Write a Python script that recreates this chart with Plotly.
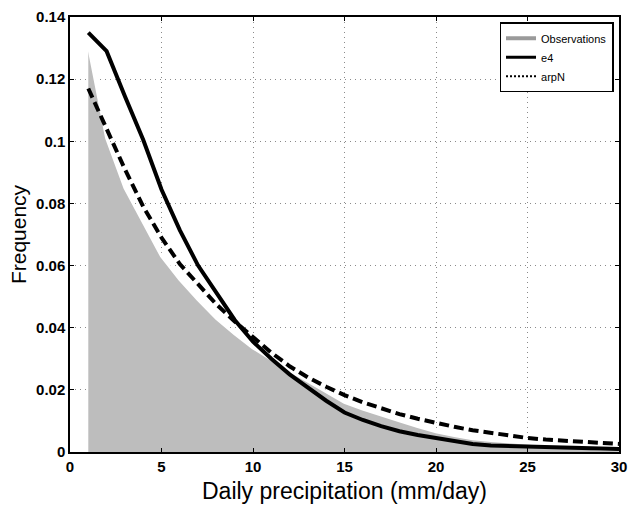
import plotly.graph_objects as go

x = list(range(1, 31))
obs = [0.131, 0.101, 0.085, 0.074, 0.063, 0.0555, 0.049, 0.043, 0.038, 0.0335,
       0.0298, 0.0262, 0.0228, 0.0195, 0.016, 0.0138, 0.0118, 0.0100, 0.0082, 0.0065,
       0.0053, 0.0043, 0.0037, 0.0033, 0.003, 0.0024, 0.0018, 0.0013, 0.0009, 0.0007]
e4 = [0.135, 0.129, 0.1145, 0.1005, 0.0845, 0.0714, 0.060, 0.051, 0.0425, 0.0355,
      0.030, 0.025, 0.0207, 0.0165, 0.0127, 0.0103, 0.0083, 0.0067, 0.0055, 0.0045,
      0.0034, 0.0026, 0.0021, 0.0019, 0.0017, 0.0015, 0.0013, 0.0012, 0.0011, 0.001]
arpn = [0.117, 0.104, 0.091, 0.079, 0.069, 0.0605, 0.054, 0.0475, 0.042, 0.0368,
        0.032, 0.0276, 0.024, 0.021, 0.0183, 0.016, 0.014, 0.0122, 0.0107, 0.0093,
        0.0081, 0.0070, 0.0061, 0.0052, 0.0045, 0.0040, 0.0036, 0.0032, 0.0029, 0.0026]

xticks = [0, 5, 10, 15, 20, 25, 30]
yticks = [0, 0.02, 0.04, 0.06, 0.08, 0.1, 0.12, 0.14]
yticklabels = ["0", "0.02", "0.04", "0.06", "0.08", "0.1", "0.12", "0.14"]

GRAY = "#bdbdbd"
fig = go.Figure()
# observations (filled area with a thin white rim)
fig.add_trace(go.Scatter(x=x, y=obs, mode="lines", showlegend=False,
                         line=dict(color="white", width=3), fill="tozeroy",
                         fillcolor=GRAY, hoverinfo="skip"))
fig.add_trace(go.Scatter(x=x, y=e4, mode="lines", showlegend=False,
                         line=dict(color="black", width=4)))
fig.add_trace(go.Scatter(x=x, y=arpn, mode="lines", showlegend=False,
                         line=dict(color="black", width=4, dash="10px,5px")))
# legend entries
fig.add_trace(go.Scatter(x=[None], y=[None], mode="lines", name="Observations",
                         line=dict(color="#9a9a9a", width=4)))
fig.add_trace(go.Scatter(x=[None], y=[None], mode="lines", name="e4",
                         line=dict(color="black", width=3)))
fig.add_trace(go.Scatter(x=[None], y=[None], mode="lines", name="arpN",
                         line=dict(color="black", width=2, dash="2px,2px")))

axis_common = dict(showline=True, linecolor="black", linewidth=1.5, mirror="ticks",
                   ticks="inside", ticklen=4, tickcolor="black", showgrid=True,
                   gridcolor="#8a8a8a", griddash="1px,4px", gridwidth=1, zeroline=False,
                   ticklabeloverflow="allow", automargin=False,
                   tickfont=dict(family="Liberation Sans", size=15, color="black", weight="bold"))

fig.update_layout(
    width=629, height=505,
    margin=dict(l=70, r=10, t=17, b=53),
    plot_bgcolor="white", paper_bgcolor="white",
    xaxis=dict(range=[0, 30], tickvals=xticks,
               title=dict(text="Daily precipitation (mm/day)", standoff=9,
                          font=dict(family="Liberation Sans", size=23, color="black")),
               **axis_common),
    yaxis=dict(range=[0, 0.14], tickvals=yticks, ticktext=yticklabels,
               title=dict(text="Frequency", standoff=4,
                          font=dict(family="Liberation Sans", size=21, color="black")),
               **axis_common),
    legend=dict(x=0.99, y=0.988, xanchor="right", yanchor="top",
                bgcolor="white", bordercolor="black", borderwidth=1.5,
                font=dict(family="Liberation Sans", size=11, color="black"),
                tracegroupgap=0, itemwidth=30),
    showlegend=True,
)

fig.write_html("out.html")
